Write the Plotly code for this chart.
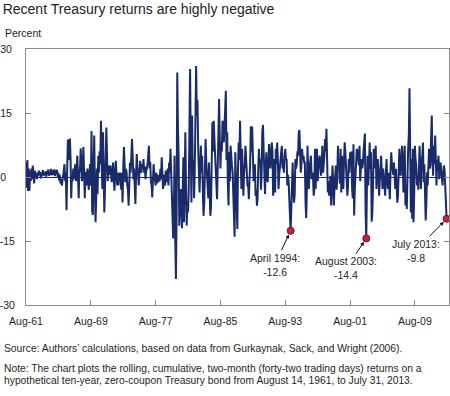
import plotly.graph_objects as go
import pandas as pd

# Rolling two-month returns (percent), monthly readings, Aug 1961 - Jul 2013
r_1960s = [
    3.5, -2.5, 4.0, -3.3, 2.0,
    -3.2, 1.5, -1.0, 2.0, -0.5, 2.7, 0.5, -1.5, 1.5, 0.0, 1.0, -0.5,
    1.0, 0.2, 1.5, 0.5, 1.2, -0.3, 1.0, 0.4, 1.6, 0.2, 1.1, 0.6,
    1.3, 0.1, 1.4, 0.6, 1.8, 0.3, 1.2, 0.5, 1.9, 0.4, 1.0, 1.6,
    0.5, 1.8, 0.2, 1.5, 0.8, 1.7, 0.0, 1.0, -0.8, 0.5, -1.5, -0.5,
    -2.0, -1.0, 0.5, 1.5, 3.0, -1.0, 1.0, -7.8, 2.0, 8.8, 4.0, 8.0,
    9.0, 4.0, -5.0, 0.5, -1.0, 2.0, -0.5, 1.5, 3.0, -1.0, 2.0, 5.0,
    0.0, -5.0, 1.0, 2.0, 6.7, 0.5, -1.0, 3.0, 7.0, 1.0, -5.0, 1.0,
    1.0, -2.0, 2.0, -1.0, -3.0, 1.0, 3.0, -2.0, 10.8, -8.0, -8.9, 2.0,
]
r_1970s = [
    9.7, -3.0, -10.6, -5.0, 2.0, -4.0, 5.0, 1.0, 6.0, 3.0, 13.2, 4.0,
    -2.8, 10.5, 3.0, -8.3, -3.0, 2.0, 11.6, 5.0, -1.0, 2.7, 0.5, 2.0,
    2.7, 0.0, -1.2, 1.5, 3.4, -0.5, -3.2, 1.0, 3.8, 0.5, -2.0, 1.0,
    -2.0, 1.0, 0.0, 1.0, -3.0, 1.0, -6.0, 2.0, 7.0, 3.0, -1.2, 1.9,
    1.0, -2.0, -3.0, -6.7, -2.0, 3.4, 1.0, 4.0, 8.9, 5.0, -0.5, 2.0,
    -3.0, -6.3, 0.0, 5.4, 2.0, 1.0, -2.0, 0.5, 3.8, 2.0, 1.0, 3.0,
    2.0, 4.2, 1.0, 2.5, -0.5, 1.5, 1.9, 3.0, 5.0, 7.3, 2.0, 3.5,
    -1.2, -2.0, -4.8, 0.5, 3.0, 1.0, -1.2, -2.0, 1.0, -1.5, 0.5, -1.2,
    0.5, -1.0, 1.9, -0.5, 4.6, 1.0, -2.8, -1.5, 0.5, -2.0, 1.5, -0.5,
    -1.2, 2.0, -2.0, 3.4, 1.0, 6.6, 1.0, -2.8, -5.0, -14.4, -8.0, 5.0,
]
r_1980s = [
    -14.5, -23.9, -10.0, 24.5, 12.0, 5.0, -11.4, -8.0, -2.8, -6.0, -12.0, -4.0,
    4.6, -10.6, 2.0, 10.5, -2.0, -11.4, -6.0, -8.3, -3.0, 12.0, 25.3, 8.0,
    -6.0, 14.4, 0.5, 4.0, -5.0, 2.0, 21.4, 26.0, 14.4, 18.0, 6.6, 3.0,
    -3.6, 2.0, 7.3, 1.0, 5.0, -4.0, -9.1, -6.0, 3.0, 8.9, 3.4, 1.0,
    -2.0, -5.0, 3.4, -4.0, -9.1, -7.0, 2.0, 12.8, 6.0, 13.2, 9.0, 6.0,
    4.2, -2.0, -5.2, 6.6, 12.0, 18.3, 9.0, 2.0, 8.1, 6.0, 13.2, 10.0,
    8.1, 12.0, 16.0, 20.2, 4.0, 10.5, -2.0, -6.7, 5.8, -1.0, 7.3, 3.0,
    2.6, 1.0, -3.0, -12.2, -14.0, 5.8, 0.0, -6.0, -12.2, 2.0, 8.1, 4.0,
    13.2, 5.0, -2.8, 6.6, -3.0, -4.4, 1.0, 3.0, 7.3, 4.0, 0.5, -2.0,
    -2.0, -5.2, -1.0, 3.0, 11.9, 6.0, 11.8, 2.7, -1.0, 1.9, 3.0, -4.4,
]
r_1990s = [
    -3.0, -6.7, -5.0, 2.0, 6.6, 2.7, 4.2, -3.0, 1.0, 10.5, 12.2, 6.0,
    -1.2, -4.0, 2.0, 5.8, 0.0, -1.2, 3.0, 7.7, 5.0, 2.0, 5.0, 8.1,
    6.0, -4.4, -2.0, 4.2, -3.6, 6.6, 3.0, 8.1, 4.0, -2.8, 0.5, 3.0,
    4.2, 6.0, 7.3, 2.0, 3.4, 1.0, 5.0, 6.6, 4.0, 4.2, -2.0, 0.5,
    -1.2, -4.0, -9.0, -12.6, -8.0, -2.0, 3.4, -2.8, -6.0, -4.0, 4.2, 2.0,
    3.0, 6.0, 5.0, 10.5, 11.0, 6.0, 1.0, 3.0, 6.6, 4.0, 5.0, 3.4,
    3.4, -6.0, -9.6, -3.0, 7.3, 1.0, -2.8, 2.0, 4.2, 5.0, -0.5, 1.0,
    0.5, -4.4, -3.0, 6.6, -2.8, 3.0, 6.6, -1.0, 2.7, 4.0, 5.0, 1.0,
    0.3, 3.0, 7.3, 1.0, 2.7, 5.0, 8.9, 6.0, 11.3, 4.0, -3.6, -1.0,
    -4.4, -2.0, 0.3, -6.7, -3.0, 2.7, -1.0, -6.7, -2.0, 1.0, 2.7, -3.0,
]
r_2000s = [
    -0.5, 7.3, 2.0, 4.2, -1.5, 6.6, -3.6, 5.0, 2.0, -2.8, 4.0, 8.1,
    5.8, 2.0, 1.0, -4.4, -2.0, 4.2, 1.0, 5.8, 3.0, 6.0, -2.8, -5.0,
    7.7, -9.0, -3.0, 1.9, 3.0, 6.6, 6.0, 4.0, 2.7, 7.3, -1.0, 2.0,
    4.2, 2.0, 3.0, 6.0, 9.7, 10.2, -8.0, -14.4, -1.2, 5.0, -2.0, 3.0,
    8.1, 1.9, 5.8, -10.5, -8.3, -2.0, 6.6, 5.0, 2.0, 7.3, -2.8, 1.0,
    4.2, 1.0, -4.4, -1.0, 3.0, 5.0, 1.0, -2.8, 2.0, 0.3, -2.0, -4.4,
    1.0, 4.2, -1.0, -2.8, 1.0, -3.0, -5.2, 2.0, 5.8, 3.0, 1.9, 0.5,
    3.4, 1.0, -2.8, 1.9, -1.0, -6.0, -4.4, 3.0, 6.6, 2.0, 0.3, 4.0,
    7.3, 4.0, -3.6, 1.0, 7.3, -6.7, -2.0, -7.5, 2.0, 6.6, 10.0, 20.8,
    6.6, -8.3, 4.2, -9.8, 6.6, -10.6, -4.0, 7.3, 4.0, 2.7, -2.0, 0.3,
]
r_2010s = [
    -3.0, 2.0, 7.3, 1.0, -2.8, 4.0, 5.0, 8.1, -1.2, 3.0, -5.2, -10.2,
    -6.0, 1.1, -2.0, 3.0, 6.6, 2.0, 2.7, 9.0, 14.4, 4.0, 0.3, 7.3,
    3.0, 9.7, 6.0, -2.0, 4.0, 2.7, 5.0, -0.5, 1.0, 3.4, 1.5, -1.0,
    -2.0, 1.0, 2.7, 1.5, -4.4, -8.0, -9.8,
]

tick_dates = ["1961-08-14", "1969-08-14", "1977-08-14", "1985-08-14",
              "1993-08-14", "2001-08-14", "2009-08-14"]
tick_labels = ["Aug-61", "Aug-69", "Aug-77", "Aug-85", "Aug-93", "Aug-01", "Aug-09"]
y_ticks = [-30, -15, 0, 15, 30]
y_tick_labels = ["-30", "-15", "0\u2007\u2008", "15\u2008", "30\u2008"]

highlight_months = ["1994-04", "2003-08", "2013-07"]
highlight_names = ["April 1994", "August 2003", "July 2013"]

returns = r_1960s + r_1970s + r_1980s + r_1990s + r_2000s + r_2010s
dates = pd.date_range("1961-08-01", periods=len(returns), freq="MS") + pd.Timedelta(days=14)
month_keys = list(dates.strftime("%Y-%m"))
h_idx = [month_keys.index(m) for m in highlight_months]
h_x = [dates[i] for i in h_idx]
h_y = [returns[i] for i in h_idx]

NAVY = "#1a2b6b"
FRAME = "#8a8a8a"
TXT = "#1e1e1e"
FONT = "Liberation Sans, Arial, sans-serif"

fig = go.Figure()
fig.add_trace(go.Scatter(x=dates, y=returns, mode="lines",
                         line=dict(color=NAVY, width=2.0), hoverinfo="skip",
                         showlegend=False, cliponaxis=True))
fig.add_trace(go.Scatter(x=h_x, y=h_y, mode="markers",
                         marker=dict(color="#cc1f3c", size=7,
                                     line=dict(color="#6e0f1e", width=1)),
                         showlegend=False, hoverinfo="skip", cliponaxis=False))

offsets = [(-16, 34), (-20, 30), (-31, 32)]
for name, xx, yy, (ax, ay) in zip(highlight_names, h_x, h_y, offsets):
    fig.add_annotation(x=xx, y=yy, xref="x", yref="y",
                       text=f"{name}:<br>{yy:.1f}", showarrow=True,
                       ax=ax, ay=ay, arrowhead=2, arrowsize=0.8, arrowwidth=1,
                       arrowcolor="#111", standoff=4, align="center",
                       font=dict(size=10.5, color=TXT, family=FONT))

fig.update_layout(
    width=450, height=396,
    margin=dict(l=26, r=1, t=49, b=91, autoexpand=False),
    paper_bgcolor="white", plot_bgcolor="white",
    font=dict(family=FONT, size=10.5, color=TXT),
    title=dict(text="Recent Treasury returns are highly negative",
               x=0.006, xanchor="left", xref="container",
               y=1 - 9.5 / 396, yanchor="middle", yref="container",
               font=dict(size=14, color="#222", family=FONT)),
    xaxis=dict(type="date", range=["1961-08-14", "2013-10-31"],
               tickvals=tick_dates, ticktext=tick_labels, automargin=False,
               ticks="inside", ticklen=5, tickcolor=FRAME, tickwidth=1,
               showline=True, linecolor=FRAME, linewidth=1, mirror=True,
               showgrid=False, zeroline=False, ticklabelstandoff=6,
               tickfont=dict(size=10.5, color=TXT)),
    yaxis=dict(range=[-30, 30], tickvals=y_ticks, ticktext=y_tick_labels,
               automargin=False,
               ticks="inside", ticklen=5, tickcolor=FRAME, tickwidth=1,
               showline=True, linecolor=FRAME, linewidth=1, mirror="ticks",
               showgrid=False, zeroline=True, zerolinecolor=NAVY,
               zerolinewidth=1.2, ticklabelstandoff=8,
               tickfont=dict(size=10.5, color=TXT)),
)

fig.add_annotation(text="Percent", xref="paper", yref="paper",
                   x=(3 - 26) / 423, y=(305 - 33) / 256, xanchor="left",
                   yanchor="middle", showarrow=False,
                   font=dict(size=10.5, color=TXT, family=FONT))
foot = [
    ("Source: Authors\u2019 calculations, based on data from Gurkaynak, Sack, and Wright (2006).", 348),
    ("Note: The chart plots the rolling, cumulative, two-month (forty-two trading days) returns on a", 368),
    ("hypothetical ten-year, zero-coupon Treasury bond from August 14, 1961, to July 31, 2013.", 380.5),
]
for txt, ypix in foot:
    fig.add_annotation(text=txt, xref="paper", yref="paper",
                       x=(2 - 26) / 423, y=(305 - ypix) / 256,
                       xanchor="left", yanchor="middle", showarrow=False,
                       font=dict(size=10.3, color=TXT, family=FONT))

fig.write_html("out.html", config={"displayModeBar": False},
               post_script="document.body.style.margin='0';document.body.style.overflow='hidden';")
